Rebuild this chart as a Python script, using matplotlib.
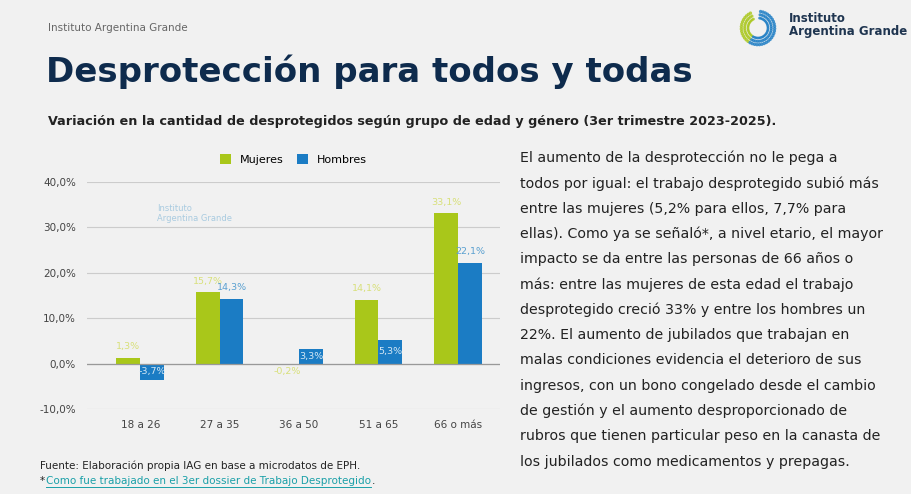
import numpy as np
import matplotlib.pyplot as plt

categorias = ["18 a 26", "27 a 35", "36 a 50", "51 a 65", "66 o más"]
mujeres = [1.3, 15.7, -0.2, 14.1, 33.1]
hombres = [-3.7, 14.3, 3.3, 5.3, 22.1]
yticks = [-10, 0, 10, 20, 30, 40]

texto = [
    "El aumento de la desprotección no le pega a",
    "todos por igual: el trabajo desprotegido subió más",
    "entre las mujeres (5,2% para ellos, 7,7% para",
    "ellas). Como ya se señaló*, a nivel etario, el mayor",
    "impacto se da entre las personas de 66 años o",
    "más: entre las mujeres de esta edad el trabajo",
    "desprotegido creció 33% y entre los hombres un",
    "22%. El aumento de jubilados que trabajan en",
    "malas condiciones evidencia el deterioro de sus",
    "ingresos, con un bono congelado desde el cambio",
    "de gestión y el aumento desproporcionado de",
    "rubros que tienen particular peso en la canasta de",
    "los jubilados como medicamentos y prepagas.",
]

verde = "#a9c71a"
azul = "#1b7cc4"
bg = "#f1f1f1"
navy = "#0e2b4d"

W, H = 912, 494
fig = plt.figure(figsize=(W / 100, H / 100), dpi=100, facecolor=bg)

def fx(px):
    return px / W

def fy(py):
    return 1 - py / H

fig.text(fx(48), fy(28), "Instituto Argentina Grande", fontsize=7.5, color="#666666", va="center")
fig.text(fx(46), fy(72), "Desprotección para todos y todas", fontsize=24.5, fontweight="bold",
         color=navy, va="center")
fig.text(fx(48), fy(121), "Variación en la cantidad de desprotegidos según grupo de edad y género (3er trimestre 2023-2025).",
         fontsize=9.2, fontweight="bold", color="#222222", va="center")

# logo
lax = fig.add_axes([fx(738), fy(48), fx(40), 40 / H])
lax.set_axis_off()
ang = np.linspace(np.pi * 0.65, np.pi * 2.45, 40)
for r, s in [(1.0, 6), (0.8, 5), (0.6, 4)]:
    cols = [verde if a < np.pi * 1.3 else azul for a in ang]
    lax.scatter(r * np.cos(ang), r * np.sin(ang), s=s, c=cols, alpha=0.8, lw=0)
lax.set_xlim(-1.2, 1.2)
lax.set_ylim(-1.2, 1.2)
fig.text(fx(789), fy(18), "Instituto", fontsize=8.5, fontweight="bold", color="#1f3550", va="center")
fig.text(fx(789), fy(32), "Argentina Grande", fontsize=8.5, fontweight="bold", color="#1f3550", va="center")

# chart
ax = fig.add_axes([fx(87), fy(409), fx(500 - 87), (409 - 182) / H])
ax.set_facecolor(bg)
x = np.arange(len(categorias))
w = 0.3
ax.bar(x - w / 2, mujeres, w, color=verde, label="Mujeres")
ax.bar(x + w / 2, hombres, w, color=azul, label="Hombres")
ax.set_ylim(-10, 40)
ax.set_xlim(-0.67, 4.53)
ax.set_yticks(yticks)
ax.set_yticklabels([f"{v:.1f}%".replace(".", ",") for v in yticks], fontsize=7.5, color="#444444")
ax.set_xticks(x)
ax.set_xticklabels(categorias, fontsize=7.5, color="#444444")
ax.tick_params(length=0, pad=8)
ax.yaxis.grid(True, color="#cccccc", lw=0.8)
ax.axhline(0, color="#999999", lw=0.9)
ax.set_axisbelow(True)
for s in ax.spines.values():
    s.set_visible(False)

def fmt(v):
    return f"{v:.1f}%".replace(".", ",")

for i, v in enumerate(mujeres):
    y = v + 1.5 if v >= 0 else v - 2.5
    ax.text(i - w / 2, y, fmt(v), ha="center", va="bottom", fontsize=6.8, color="#d8e07a")
for i, v in enumerate(hombres):
    if v < 8:
        ax.text(i + w / 2, v / 2, fmt(v), ha="center", va="center", fontsize=6.8, color="#d5e8f5")
    else:
        ax.text(i + w / 2, v + 1.5, fmt(v), ha="center", va="bottom", fontsize=6.8, color="#5aa0d0")

ax.text(0.17, 0.86, "Instituto\nArgentina Grande", transform=ax.transAxes, fontsize=6,
        color="#a9cbe0", va="center", linespacing=1.1)
ax.legend(loc="lower center", bbox_to_anchor=(0.5, 1.03), ncol=2, frameon=False, fontsize=8,
          handlelength=1, handleheight=1, columnspacing=1.2)

# right text
for k, line in enumerate(texto):
    fig.text(fx(520), fy(158 + k * 25.3), line, fontsize=10.2, color="#222222", va="center")

fig.text(fx(40), fy(466), "Fuente: Elaboración propia IAG en base a microdatos de EPH.", fontsize=7.5,
         color="#222222", va="center")
fig.text(fx(40), fy(481), "*", fontsize=7.5, color="#222222", va="center")
fig.text(fx(46), fy(481), "Como fue trabajado en el 3er dossier de Trabajo Desprotegido", fontsize=7.5,
         color="#1aa0a8", va="center")
fig.text(fx(372), fy(481), ".", fontsize=7.5, color="#222222", va="center")
fig.add_artist(plt.Line2D([fx(46), fx(371)], [fy(487), fy(487)], color="#1aa0a8", lw=0.7))

fig.savefig("out.png", dpi=100, facecolor=bg)
